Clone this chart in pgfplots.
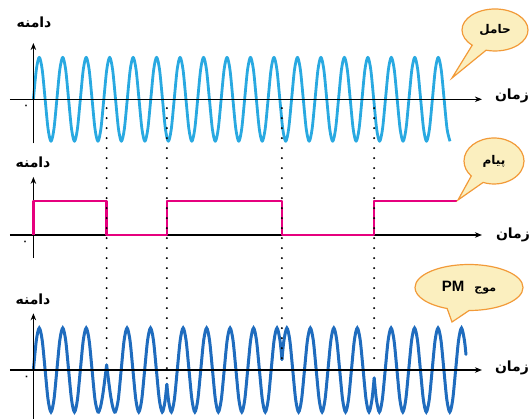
\documentclass[border=0pt]{standalone}
\usepackage{pgfplots}
\pgfplotsset{compat=1.18}
\usepackage{fontspec}
\usetikzlibrary{arrows.meta,shapes.callouts}
\setmainfont{Liberation Sans}
\newfontfamily\fa[Script=Arabic]{DejaVu Sans}
\TeXXeTstate=1
\definecolor{carrier}{HTML}{29A9E1}
\definecolor{msg}{HTML}{E6007E}
\definecolor{pmc}{HTML}{1F6CBE}
\definecolor{bubfill}{HTML}{FBEFBF}
\definecolor{bubdraw}{HTML}{F29A38}
\newcommand{\fatext}[1]{{\fa\bfseries\beginR #1\endR}}
\begin{document}
\begin{tikzpicture}
\pgfplotsset{panel/.style={axis lines=middle, anchor=origin, x=23.47pt,
  xmin=-1, xmax=19.11, xtick=\empty, ytick=\empty, clip=false,
  axis line style={line width=1.3pt, -{Stealth[length=7pt,width=5.5pt]}}}}
% ---------------- carrier ----------------
\begin{axis}[panel, at={(33.4pt,-99.3pt)}, y=42pt, ymin=-1.05, ymax=1.34, axis on top]
\addplot[carrier, line width=2.8pt, smooth, mark=none, line join=round] coordinates {
(0,0)(0.125,0.707)(0.25,1)(0.375,0.707)(0.5,0)(0.625,-0.707)(0.75,-1)(0.875,-0.707)
(1,0)(1.125,0.707)(1.25,1)(1.375,0.707)(1.5,0)(1.625,-0.707)(1.75,-1)(1.875,-0.707)
(2,0)(2.125,0.707)(2.25,1)(2.375,0.707)(2.5,0)(2.625,-0.707)(2.75,-1)(2.875,-0.707)
(3,0)(3.125,0.707)(3.25,1)(3.375,0.707)(3.5,0)(3.625,-0.707)(3.75,-1)(3.875,-0.707)
(4,0)(4.125,0.707)(4.25,1)(4.375,0.707)(4.5,0)(4.625,-0.707)(4.75,-1)(4.875,-0.707)
(5,0)(5.125,0.707)(5.25,1)(5.375,0.707)(5.5,0)(5.625,-0.707)(5.75,-1)(5.875,-0.707)
(6,0)(6.125,0.707)(6.25,1)(6.375,0.707)(6.5,0)(6.625,-0.707)(6.75,-1)(6.875,-0.707)
(7,0)(7.125,0.707)(7.25,1)(7.375,0.707)(7.5,0)(7.625,-0.707)(7.75,-1)(7.875,-0.707)
(8,0)(8.125,0.707)(8.25,1)(8.375,0.707)(8.5,0)(8.625,-0.707)(8.75,-1)(8.875,-0.707)
(9,0)(9.125,0.707)(9.25,1)(9.375,0.707)(9.5,0)(9.625,-0.707)(9.75,-1)(9.875,-0.707)
(10,0)(10.125,0.707)(10.25,1)(10.375,0.707)(10.5,0)(10.625,-0.707)(10.75,-1)(10.875,-0.707)
(11,0)(11.125,0.707)(11.25,1)(11.375,0.707)(11.5,0)(11.625,-0.707)(11.75,-1)(11.875,-0.707)
(12,0)(12.125,0.707)(12.25,1)(12.375,0.707)(12.5,0)(12.625,-0.707)(12.75,-1)(12.875,-0.707)
(13,0)(13.125,0.707)(13.25,1)(13.375,0.707)(13.5,0)(13.625,-0.707)(13.75,-1)(13.875,-0.707)
(14,0)(14.125,0.707)(14.25,1)(14.375,0.707)(14.5,0)(14.625,-0.707)(14.75,-1)(14.875,-0.707)
(15,0)(15.125,0.707)(15.25,1)(15.375,0.707)(15.5,0)(15.625,-0.707)(15.75,-1)(15.875,-0.707)
(16,0)(16.125,0.707)(16.25,1)(16.375,0.707)(16.5,0)(16.625,-0.707)(16.75,-1)(16.875,-0.707)
(17,0)(17.125,0.707)(17.25,1)(17.375,0.707)(17.5,0)(17.625,-0.707)(17.75,-1)
};
\coordinate (a1) at (axis cs:3.12,-0.21);
\coordinate (a2) at (axis cs:5.685,-0.21);
\coordinate (a3) at (axis cs:10.59,-0.21);
\coordinate (a4) at (axis cs:14.52,-0.21);
\end{axis}
% ---------------- message ----------------
\begin{axis}[panel, at={(33.4pt,-235pt)}, y=34pt, ymin=-0.68, ymax=1.71]
\addplot[msg, line width=2.4pt, mark=none, line join=round] coordinates {
(0,0)(0,1)(3.12,1)(3.12,0)(5.685,0)(5.685,1)(10.59,1)(10.59,0)(14.52,0)(14.52,1)(18.04,1)
};
\end{axis}
% ---------------- PM wave ----------------
\begin{axis}[panel, at={(33.4pt,-370pt)}, y=42pt, ymin=-1.17, ymax=1.35, axis on top]
\addplot[pmc, line width=3pt, smooth, mark=none, line cap=round] coordinates {
(0,0)(0.125,0.707)(0.25,1)(0.375,0.707)(0.5,0)(0.625,-0.707)(0.75,-1)(0.875,-0.707)
(1,0)(1.125,0.707)(1.25,1)(1.375,0.707)(1.5,0)(1.625,-0.707)(1.75,-1)(1.875,-0.707)
(2,0)(2.125,0.707)(2.25,1)(2.375,0.707)(2.5,0)(2.625,-0.707)(2.75,-1)
(2.85,-0.9)(2.95,-0.61)(3.04,-0.24)(3.12,0.12)
};
\addplot[pmc, line width=3pt, smooth, mark=none, line cap=round] coordinates {
(3.12,0.12)(3.2,-0.24)(3.29,-0.61)(3.39,-0.9)(3.49,-1)
(3.615,-0.707)(3.74,0)(3.865,0.707)(3.99,1)(4.115,0.707)(4.24,0)(4.365,-0.707)(4.49,-1)
(4.615,-0.707)(4.74,0)(4.865,0.707)(4.99,1)(5.115,0.707)(5.24,0)(5.365,-0.707)(5.49,-1)
(5.6,-0.77)(5.685,-0.34)
};
\addplot[pmc, line width=3pt, smooth, mark=none, line cap=round] coordinates {
(5.685,-0.34)(5.77,-0.77)(5.88,-1)
(6.005,-0.707)(6.13,0)(6.255,0.707)(6.38,1)(6.505,0.707)(6.63,0)(6.755,-0.707)(6.88,-1)
(7.005,-0.707)(7.13,0)(7.255,0.707)(7.38,1)(7.505,0.707)(7.63,0)(7.755,-0.707)(7.88,-1)
(8.005,-0.707)(8.13,0)(8.255,0.707)(8.38,1)(8.505,0.707)(8.63,0)(8.755,-0.707)(8.88,-1)
(9.005,-0.707)(9.13,0)(9.255,0.707)(9.38,1)(9.505,0.707)(9.63,0)(9.755,-0.707)(9.88,-1)
(10.005,-0.707)(10.13,0)(10.255,0.707)(10.38,1)(10.505,0.707)(10.59,0.25)
};
\addplot[pmc, line width=3pt, smooth, mark=none, line cap=round] coordinates {
(10.59,0.25)(10.675,0.707)(10.8,1)(10.925,0.707)(11.05,0)(11.175,-0.707)(11.3,-1)
(11.425,-0.707)(11.55,0)(11.675,0.707)(11.8,1)(11.925,0.707)(12.05,0)(12.175,-0.707)(12.3,-1)
(12.425,-0.707)(12.55,0)(12.675,0.707)(12.8,1)(12.925,0.707)(13.05,0)(13.175,-0.707)(13.3,-1)
(13.425,-0.707)(13.55,0)(13.675,0.707)(13.8,1)(13.925,0.707)(14.05,0)(14.175,-0.707)(14.3,-1)
(14.425,-0.707)(14.52,-0.19)
};
\addplot[pmc, line width=3pt, smooth, mark=none, line cap=round] coordinates {
(14.52,-0.19)(14.615,-0.707)(14.74,-1)
(14.865,-0.707)(14.99,0)(15.115,0.707)(15.24,1)(15.365,0.707)(15.49,0)(15.615,-0.707)(15.74,-1)
(15.865,-0.707)(15.99,0)(16.115,0.707)(16.24,1)(16.365,0.707)(16.49,0)(16.615,-0.707)(16.74,-1)
(16.865,-0.707)(16.99,0)(17.115,0.707)(17.24,1)(17.365,0.707)(17.49,0)(17.615,-0.707)(17.74,-1)
(17.865,-0.707)(17.99,0)(18.115,0.707)(18.24,1)(18.365,0.707)(18.43,0.37)
};
\coordinate (b1) at (axis cs:3.12,0.24);
\coordinate (b2) at (axis cs:5.685,-0.28);
\coordinate (b3) at (axis cs:10.59,0.24);
\coordinate (b4) at (axis cs:14.52,0.22);
\end{axis}
% ---------------- dotted guide lines ----------------
\foreach \i in {1,2,3,4}{
  \draw[line width=2.2pt, dash pattern=on 0pt off 10pt, line cap=round] (a\i) -- (b\i);
}
% ---------------- labels ----------------
\begin{scope}[font=\fontsize{14}{16}\selectfont]
\node at (34pt,-22pt) {\fatext{دامنه}};
\node at (33pt,-162pt) {\fatext{دامنه}};
\node at (33pt,-299pt) {\fatext{دامنه}};
\node at (512pt,-96pt) {\fatext{زمان}};
\node at (513pt,-235pt) {\fatext{زمان}};
\node at (512pt,-368pt) {\fatext{زمان}};
\end{scope}
\node[font=\fontsize{9}{10}\selectfont] at (26pt,-107pt) {\fatext{۰}};
\node[font=\fontsize{9}{10}\selectfont] at (25pt,-243pt) {\fatext{۰}};
\node[font=\fontsize{9}{10}\selectfont] at (26.5pt,-378pt) {\fatext{۰}};
% ---------------- callouts ----------------
\node[ellipse callout, draw=bubdraw, line width=1.2pt, fill=bubfill, inner sep=0pt,
  callout pointer arc=28,
  minimum width=66pt, minimum height=42pt, callout absolute pointer={(452pt,-78pt)},
  font=\fontsize{12}{14}\selectfont] at (495pt,-30pt) {\fatext{حامل}};
\node[ellipse callout, draw=bubdraw, line width=1.2pt, fill=bubfill, inner sep=0pt,
  callout pointer arc=28,
  minimum width=60pt, minimum height=46pt, callout absolute pointer={(458pt,-200pt)},
  font=\fontsize{12}{14}\selectfont] at (494pt,-161pt) {\fatext{پیام}};
\node[ellipse callout, draw=bubdraw, line width=1.2pt, fill=bubfill, inner sep=0pt,
  callout pointer arc=24,
  minimum width=108pt, minimum height=46pt, callout absolute pointer={(452pt,-322pt)}]
  at (469pt,-287.5pt) {{\fa\bfseries\fontsize{11}{13}\selectfont\beginR موج\hspace{10pt}\beginL{\rmfamily\bfseries\fontsize{15}{17}\selectfont PM}\endL\endR}};
\pgfresetboundingbox
\path[use as bounding box] (0pt,0pt) rectangle (532pt,-419pt);
\end{tikzpicture}
\end{document}
